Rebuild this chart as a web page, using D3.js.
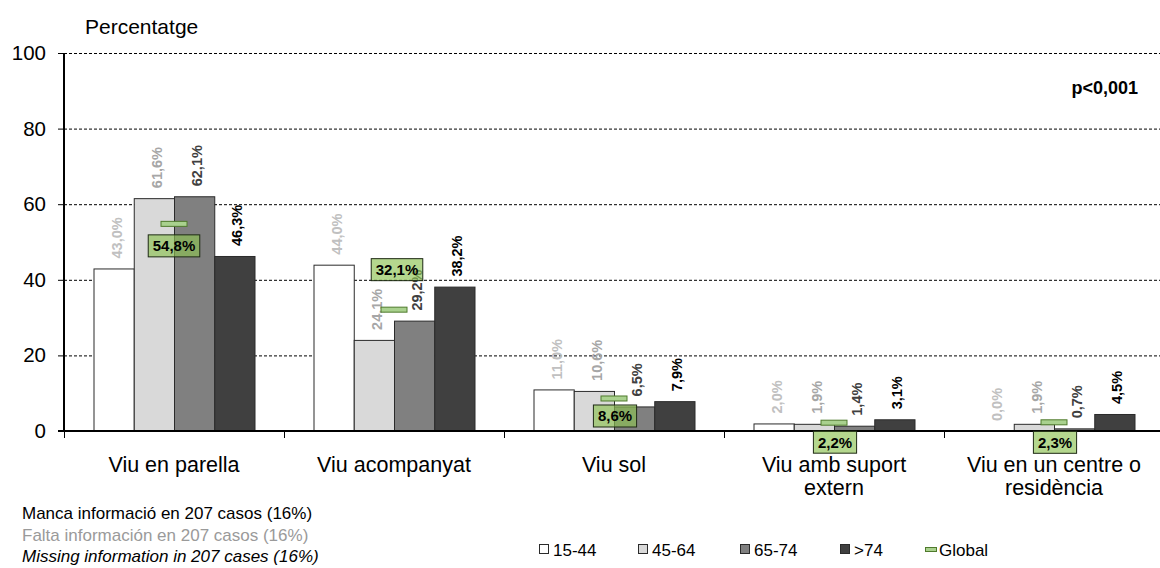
<!DOCTYPE html>
<html><head><meta charset="utf-8">
<script src="https://cdn.jsdelivr.net/npm/d3@7"></script>
<style>
html,body{margin:0;padding:0;background:#fff;}
svg{display:block;font-family:Arial,"Liberation Sans",sans-serif;}
</style></head>
<body><svg id="c" width="1160" height="568"></svg>
<script>
// ---- data ----
const categories = ["Viu en parella","Viu acompanyat","Viu sol","Viu amb suport extern","Viu en un centre o residència"];
const categoryLines = [["Viu en parella"],["Viu acompanyat"],["Viu sol"],["Viu amb suport","extern"],["Viu en un centre o","residència"]];
const seriesNames = ["15-44","45-64","65-74",">74"];
const v1544 = [43.0,44.0,11.0,2.0,0.0];
const v4564 = [61.6,24.1,10.6,1.9,1.9];
const v6574 = [62.1,29.2,6.5,1.4,0.7];
const v74   = [46.3,38.2,7.9,3.1,4.5];
const globalVals = [54.8,32.1,8.6,2.2,2.3];
const yTicks = [0,20,40,60,80,100];
const notes = ["Manca informació en 207 casos (16%)","Falta información  en 207 casos (16%)","Missing information in 207 cases (16%)"];

// ---- style / layout ----
const fills = ["#ffffff","#d9d9d9","#808080","#404040"];
const labelColors = ["#c0c0c0","#a6a6a6","#404040","#000000"];
const boxOffsets = [[0,22],[3,-40],[1,17.5],[1,19.5],[1,20]];
const fmt = v => v.toFixed(1).replace(".", ",") + "%";

const svg = d3.select("#c");
const x0 = d3.scaleBand().domain(categories).range([64,1164]);
const x1 = d3.scaleBand().domain(seriesNames).range([0,161]);
const y = d3.scaleLinear().domain([0,100]).range([431,53]);
const series = [v1544,v4564,v6574,v74];

// gridlines
svg.append("g").selectAll("line").data(yTicks.filter(t=>t>0)).join("line")
  .attr("x1",64).attr("x2",1160).attr("y1",d=>y(d)+0.5).attr("y2",d=>y(d)+0.5)
  .attr("stroke","#000").attr("stroke-width",1).attr("stroke-dasharray","3,2");

// bars
const gOff = (x0.bandwidth()-161)/2;
series.forEach((vals,si)=>{
  svg.append("g").selectAll("rect").data(vals).join("rect")
    .attr("x",(d,i)=>x0(categories[i])+gOff+x1(seriesNames[si])+0.5)
    .attr("y",d=>y(d)+0.5)
    .attr("width",x1.bandwidth())
    .attr("height",d=>y(0)-y(d))
    .attr("fill",fills[si]).attr("stroke",d=>d>0?"#2b2b2b":"none").attr("stroke-width",1);
});

// y axis
const yAxis = d3.axisLeft(y).tickValues(yTicks).tickSize(6).tickPadding(12);
const ya = svg.append("g").attr("transform","translate(64,0)").call(yAxis);
ya.select(".domain").attr("stroke","#000").attr("stroke-width",2).attr("d","M0,53V432");
ya.selectAll(".tick line").attr("stroke","#000").attr("stroke-width",1);
ya.selectAll(".tick text").attr("font-size",20.5).attr("fill","#000").attr("font-family","Arial,'Liberation Sans',sans-serif");

// x axis
const xa = svg.append("g").attr("transform","translate(0,431)");
xa.append("line").attr("x1",58).attr("x2",1160).attr("y1",0).attr("y2",0).attr("stroke","#000").attr("stroke-width",2);
xa.selectAll("line.t").data(categories).join("line").attr("class","t")
  .attr("x1",d=>x0(d)+0.5).attr("x2",d=>x0(d)+0.5).attr("y1",0).attr("y2",7).attr("stroke","#000");
const xl = xa.selectAll("text.c").data(categories).join("text").attr("class","c")
  .attr("x",d=>x0(d)+x0.bandwidth()/2).attr("y",41).attr("text-anchor","middle")
  .attr("font-size",21.5).attr("fill","#000");
xl.each(function(d,i){
  d3.select(this).selectAll("tspan").data(categoryLines[i]).join("tspan")
    .attr("x",x0(d)+x0.bandwidth()/2).attr("dy",(l,j)=>j===0?0:23).text(l=>l);
});

// value labels
series.forEach((vals,si)=>{
  svg.append("g").selectAll("text").data(vals).join("text")
    .attr("transform",(d,i)=>{
      const cx = x0(categories[i])+gOff+x1(seriesNames[si])+x1.bandwidth()/2+3;
      return `translate(${cx},${y(d)-10}) rotate(-90)`;
    })
    .attr("dy","0.35em").attr("text-anchor","start")
    .attr("font-size",14.5).attr("font-weight","bold").attr("fill",labelColors[si])
    .text(d=>fmt(d));
});

// global markers
svg.append("g").selectAll("rect").data(globalVals).join("rect")
  .attr("x",(d,i)=>x0(categories[i])+x0.bandwidth()/2-13)
  .attr("y",d=>y(d)-2.5).attr("width",26).attr("height",5)
  .attr("fill","#a9d18e").attr("stroke","#4f7a2c").attr("stroke-width",1);

// global labels
const gl = svg.append("g").selectAll("g").data(globalVals).join("g")
  .attr("transform",(d,i)=>`translate(${x0(categories[i])+x0.bandwidth()/2+boxOffsets[i][0]},${y(d)+boxOffsets[i][1]})`);
gl.append("text").attr("text-anchor","middle").attr("dy","0.36em")
  .attr("font-size",15).attr("font-weight","bold").attr("fill","#000").text(d=>fmt(d));
gl.each(function(){
  const t = d3.select(this).select("text");
  const w = t.node().getComputedTextLength()+9;
  d3.select(this).insert("rect","text").attr("x",-w/2).attr("y",-11).attr("width",w).attr("height",22)
    .attr("fill","#8cc152").attr("fill-opacity",0.65).attr("stroke","#1e2a14").attr("stroke-width",1);
});

// title-ish texts
svg.append("text").attr("x",85).attr("y",34).attr("font-size",21).attr("fill","#000").text("Percentatge");
svg.append("text").attr("x",1138).attr("y",94).attr("text-anchor","end").attr("font-size",18).attr("font-weight","bold").attr("fill","#000").text("p<0,001");

// notes
const noteStyles = [{c:"#000",s:"normal"},{c:"#9a9a9a",s:"normal"},{c:"#000",s:"italic"}];
svg.append("g").selectAll("text").data(notes).join("text")
  .attr("x",22).attr("y",(d,i)=>519+i*21.5).attr("font-size",17)
  .attr("fill",(d,i)=>noteStyles[i].c).attr("font-style",(d,i)=>noteStyles[i].s).text(d=>d);

// legend
const legX = [539,638,740,840];
const lg = svg.append("g");
seriesNames.forEach((n,i)=>{
  lg.append("rect").attr("x",legX[i]+0.5).attr("y",544.5).attr("width",9).attr("height",9)
    .attr("fill",fills[i]).attr("stroke","#2b2b2b");
  lg.append("text").attr("x",legX[i]+14).attr("y",555.5).attr("font-size",17).attr("fill","#000").text(n);
});
lg.append("rect").attr("x",925.5).attr("y",547.5).attr("width",11).attr("height",4)
  .attr("fill","#a9d18e").attr("stroke","#4f7a2c");
lg.append("text").attr("x",939).attr("y",555.5).attr("font-size",17).attr("fill","#000").text("Global");
</script></body></html>
